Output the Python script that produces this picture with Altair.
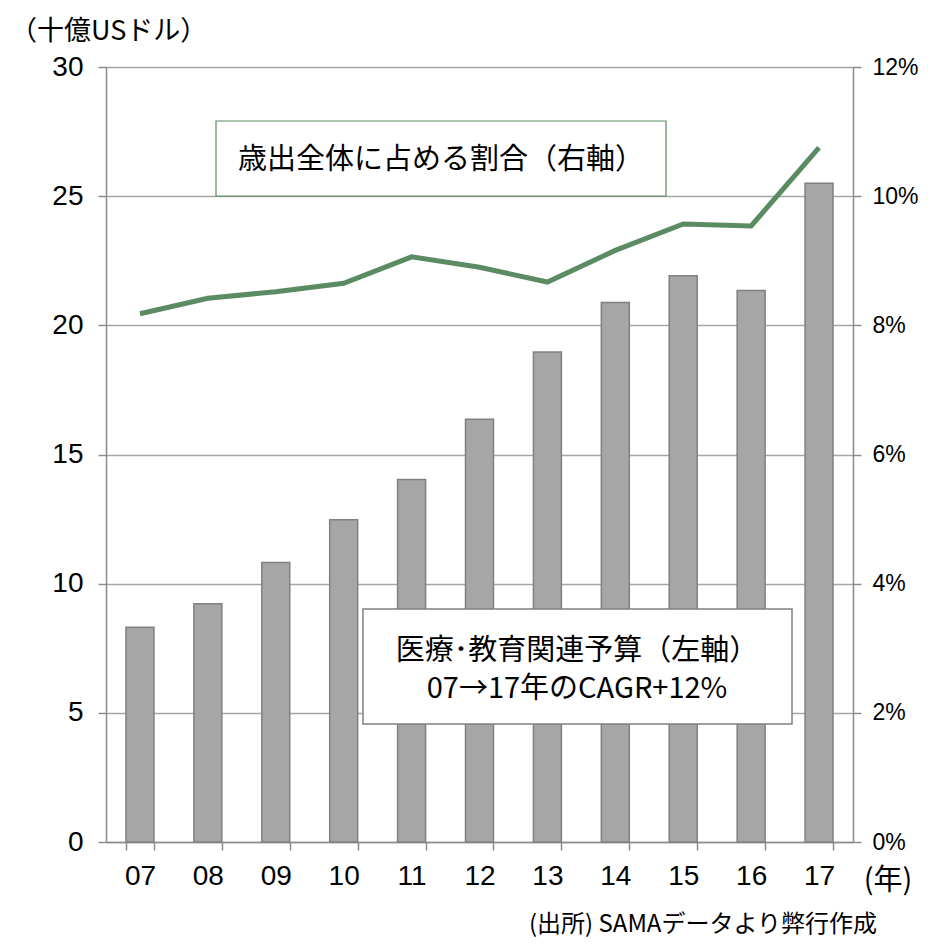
import altair as alt
import pandas as pd

years = ["07", "08", "09", "10", "11", "12", "13", "14", "15", "16", "17"]
budget = [8.31, 9.22, 10.82, 12.47, 14.03, 16.36, 18.97, 20.88, 21.92, 21.35, 25.50]
share_pct = [8.18, 8.42, 8.52, 8.65, 9.06, 8.90, 8.67, 9.16, 9.57, 9.54, 10.75]

left_ticks = [0, 5, 10, 15, 20, 25, 30]
right_ticks = [0, 0.02, 0.04, 0.06, 0.08, 0.10, 0.12]

unit_label = "（十億USドル）"
year_label = "(年)"
source_label = "(出所) SAMAデータより弊行作成"
line_note = "歳出全体に占める割合（右軸）"
bar_note_1 = "医療･教育関連予算（左軸）"
bar_note_2 = "07→17年のCAGR+12%"

df = pd.DataFrame({
    "year": years,
    "budget": budget,
    "share": [v / 100 for v in share_pct],
})

W, H = 747, 775
NUM_FONT = "Liberation Sans"
JP_FONT = "Noto Sans CJK JP"
GRID = "#a6a6a6"
AXIS = "#8c8c8c"
GREEN = "#5a8b62"

xenc = alt.X(
    "year:N",
    sort=years,
    scale=alt.Scale(paddingInner=0.588, paddingOuter=0.294),
    axis=alt.Axis(
        title=None, labelAngle=0, labelFont=NUM_FONT, labelFontSize=28,
        labelColor="black", labelPadding=12, tickSize=8, tickBand="extent",
        tickColor=AXIS, domainColor=AXIS, tickWidth=1.5, domainWidth=1.5,
    ),
)

bars = alt.Chart(df).mark_bar(
    color="#a6a6a6", stroke="#808080", strokeWidth=1.5
).encode(
    x=xenc,
    y=alt.Y(
        "budget:Q",
        scale=alt.Scale(domain=[0, 30], nice=False),
        axis=alt.Axis(
            title=None, values=left_ticks, orient="left", labelFont=NUM_FONT,
            labelFontSize=28, labelColor="black", labelPadding=15, tickSize=8,
            grid=True, gridColor=GRID, gridWidth=1.5, tickColor=AXIS,
            domainColor=AXIS, tickWidth=1.5, domainWidth=1.5,
        ),
    ),
)

one = alt.Data(values=[{}])

gray_box = alt.Chart(one).mark_rect(
    fill="white", stroke="#808080", strokeWidth=1.5
).encode(
    x=alt.value(257), x2=alt.value(686), y=alt.value(542), y2=alt.value(657)
)

gray_text1 = alt.Chart(one).mark_text(
    font=JP_FONT, fontSize=29, color="black", align="center", baseline="middle"
).encode(x=alt.value(471), y=alt.value(584), text=alt.value(bar_note_1))

gray_text2 = alt.Chart(one).mark_text(
    font=JP_FONT, fontSize=29, color="black", align="center", baseline="middle"
).encode(x=alt.value(471), y=alt.value(622), text=alt.value(bar_note_2))

line = alt.Chart(df).mark_line(color=GREEN, strokeWidth=5).encode(
    x=alt.X("year:N", sort=years),
    y=alt.Y(
        "share:Q",
        scale=alt.Scale(domain=[0, 0.12], nice=False),
        axis=alt.Axis(
            title=None, values=right_ticks, format=".0%", orient="right",
            labelFont=NUM_FONT, labelFontSize=23,
            labelColor="black", labelPadding=11, tickSize=8, grid=False,
            tickColor=AXIS, domainColor=AXIS, tickWidth=1.5, domainWidth=1.5,
        ),
    ),
)

green_box = alt.Chart(one).mark_rect(
    fill="white", stroke=GREEN, strokeWidth=1.2
).encode(
    x=alt.value(110), x2=alt.value(560), y=alt.value(54), y2=alt.value(129)
)

green_text = alt.Chart(one).mark_text(
    font=JP_FONT, fontSize=29, color="black", align="center", baseline="middle"
).encode(x=alt.value(335), y=alt.value(93), text=alt.value(line_note))

unit_text = alt.Chart(one).mark_text(
    font=JP_FONT, fontSize=27, color="black", align="left", baseline="middle"
).encode(x=alt.value(-96), y=alt.value(-35), text=alt.value(unit_label))

year_text = alt.Chart(one).mark_text(
    font=JP_FONT, fontSize=29, color="black", align="center", baseline="middle"
).encode(x=alt.value(782), y=alt.value(814), text=alt.value(year_label))

source_text = alt.Chart(one).mark_text(
    font=JP_FONT, fontSize=24, color="black", align="right", baseline="middle"
).encode(x=alt.value(771), y=alt.value(858), text=alt.value(source_label))

chart = alt.layer(
    bars, gray_box, gray_text1, gray_text2, line, green_box, green_text,
    unit_text, year_text, source_text,
).resolve_scale(y="independent").properties(
    width=W, height=H,
    autosize=alt.AutoSizeParams(type="none"),
    padding={"left": 98, "top": 59, "right": 67, "bottom": 98},
).configure_view(stroke=None).configure(background="white")

chart.save("out.html", embed_options={"renderer": "svg", "actions": False})
